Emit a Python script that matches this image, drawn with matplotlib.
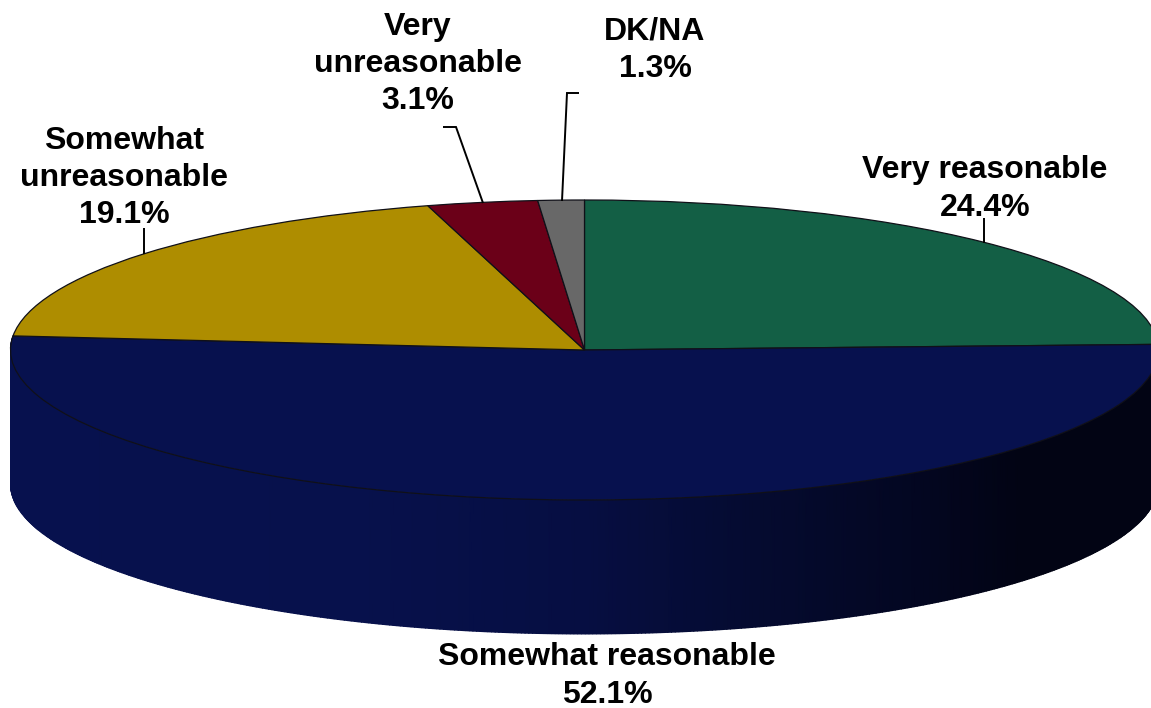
import numpy as np
import matplotlib
matplotlib.use('Agg')
import matplotlib.pyplot as plt
from matplotlib.colors import LinearSegmentedColormap

labels = ['Very reasonable', 'Somewhat reasonable', 'Somewhat\nunreasonable', 'Very\nunreasonable', 'DK/NA']
values = [24.4, 52.1, 19.1, 3.1, 1.3]
colors = ['#135f45', '#07114e', '#ae8d00', '#6b0018', '#686868']

W, H = 1151, 708
CX, CY, RX, RY = 584.5, 350, 574, 150
DEPTH = 134 / RY


# pixel position in the picture -> data units of the unit pie
def px(x, y):
    return (x - CX) / RX, (CY - y) / RY


plt.rcParams['font.family'] = ['Liberation Sans', 'DejaVu Sans']
fig = plt.figure(figsize=(W / 100, H / 100), dpi=100)
ax = fig.add_axes([0, 0, 1, 1])

# side wall of the big slice, darkens to the right
side = LinearSegmentedColormap.from_list('side', [(0, '#07114e'), (0.3, '#07114c'), (0.5, '#060e42'),
                                                  (0.65, '#050b30'), (0.8, '#030620'), (0.88, '#020414'),
                                                  (1, '#020414')])
start = np.pi / 2 - 2 * np.pi * values[0] / 100
end = start - 2 * np.pi * values[1] / 100
theta = np.linspace(start, end, 500)
X = np.vstack([np.cos(theta), np.cos(theta)])
Y = np.vstack([np.sin(theta), np.sin(theta) - DEPTH])
ax.pcolormesh(X, Y, (X + 1) / 2, cmap=side, vmin=0, vmax=1, shading='gouraud', zorder=1)

wedges, _ = ax.pie(values, colors=colors, startangle=90, counterclock=False, radius=1,
                   wedgeprops=dict(edgecolor='#101018', linewidth=0.9, zorder=2))

# leader lines
leaders = [
    [(984, 218), (984, 243)],
    [(144, 228), (144, 254)],
    [(443, 127), (456, 127), (483, 203)],
    [(579, 93), (567, 93), (562, 201)],
]
for pts in leaders:
    xs, ys = zip(*[px(*p) for p in pts])
    ax.plot(xs, ys, color='black', lw=1.4, zorder=3, solid_capstyle='butt', solid_joinstyle='miter')

label_pos = [(985, 189), (607, 676), (124, 178), (418, 64), (655, 50)]
for name, val, pos in zip(labels, values, label_pos):
    x, y = px(*pos)
    ax.text(x, y, f'{name}\n{val}%', ha='center', va='center', fontsize=23, fontweight='bold',
            linespacing=1.31, color='black', zorder=4)

ax.set_aspect('auto')
ax.set_xlim(px(0, 0)[0], px(W, 0)[0])
ax.set_ylim(px(0, H)[1], px(0, 0)[1])
ax.axis('off')

fig.savefig('out.png', dpi=100, facecolor='white')
